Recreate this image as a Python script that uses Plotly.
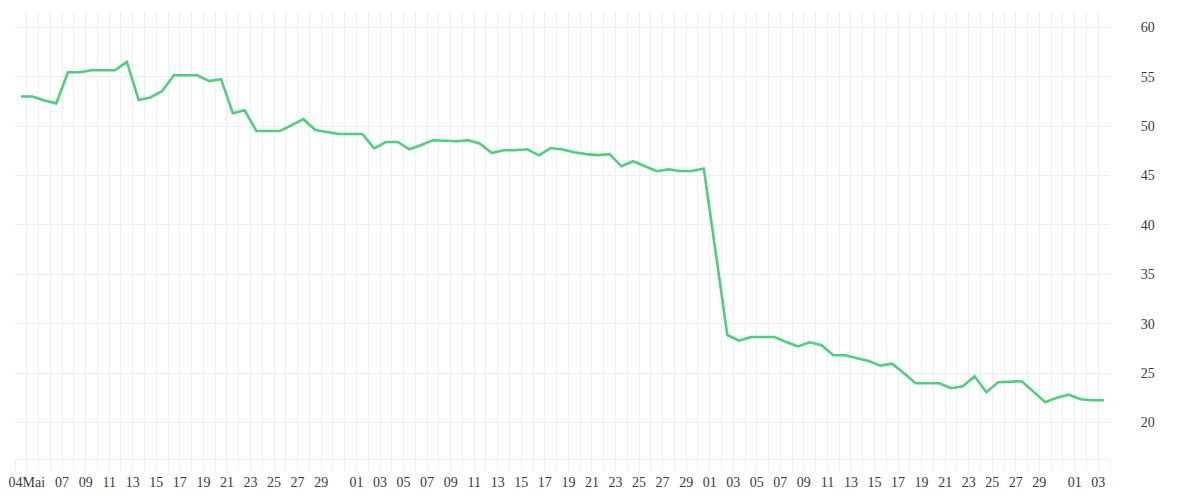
import pandas as pd
import plotly.graph_objects as go

# Daily values, 3 May (noon) .. 3 Aug (noon)
start_date = "2020-05-03 12:00"
values = [
    53.0, 53.0, 52.6, 52.3, 55.45, 55.45, 55.65, 55.65, 55.65, 56.5,
    52.65, 52.9, 53.55, 55.15, 55.15, 55.15, 54.55, 54.75, 51.3, 51.6,
    49.5, 49.5, 49.5, 50.1, 50.7, 49.6, 49.4, 49.2, 49.2, 49.2,
    47.75, 48.39, 48.39, 47.65, 48.09, 48.56, 48.52, 48.46, 48.56, 48.22,
    47.28, 47.55, 47.55, 47.65, 47.04, 47.78, 47.64, 47.35, 47.16, 47.06,
    47.16, 45.93, 46.44, 45.92, 45.43, 45.62, 45.45, 45.45, 45.71, 37.3,
    28.85, 28.28, 28.65, 28.65, 28.65, 28.15, 27.7, 28.11, 27.81, 26.8,
    26.8, 26.5, 26.23, 25.75, 25.95, 24.98, 23.97, 23.97, 23.97, 23.46,
    23.66, 24.67, 23.06, 24.07, 24.1, 24.17, 23.12, 22.04, 22.51, 22.81,
    22.35, 22.25, 22.25,
]
dates = pd.date_range(start_date, periods=len(values), freq="D")

tick_dates = (
    ["2020-05-04"] + [f"2020-05-{d:02d}" for d in range(7, 30, 2)]
    + [f"2020-06-{d:02d}" for d in range(1, 30, 2)]
    + [f"2020-07-{d:02d}" for d in range(1, 30, 2)]
    + ["2020-08-01", "2020-08-03"]
)
tick_labels = ["04Mai"] + [d[-2:] for d in tick_dates[1:]]

x_range = ["2020-05-03", "2020-08-04"]
y_range = [16.3, 61.55]

grid = "#eeeeee"
font = dict(family="Liberation Serif", size=14, color="#3a3a3a")

fig = go.Figure(go.Scatter(
    x=dates, y=values, mode="lines",
    line=dict(color="#4dd07a", width=2.6),
))

# page body has an 8px default margin; size the figure to fit the window
fig.update_layout(
    width=1192, height=492,
    margin=dict(l=7, r=90, t=4, b=41),
    paper_bgcolor="white", plot_bgcolor="white",
    showlegend=False, font=font,
)
fig.update_xaxes(
    range=x_range, tickvals=tick_dates, ticktext=tick_labels,
    showgrid=True, gridcolor=grid, gridwidth=1,
    ticks="outside", ticklen=10, tickcolor=grid,
    showline=True, linecolor=grid, zeroline=False, automargin=False,
    minor=dict(dtick=86400000, tick0="2020-05-03", showgrid=True,
               gridcolor=grid, ticks="outside", ticklen=10, tickcolor=grid),
    tickfont=font,
)
fig.update_yaxes(
    side="right", range=y_range, dtick=5, tick0=0,
    showgrid=True, gridcolor=grid, gridwidth=1, zeroline=False,
    ticks="outside", ticklen=27, tickcolor="rgba(0,0,0,0)",
    showline=False, tickfont=font, automargin=False,
)

fig.write_html("out.html")
